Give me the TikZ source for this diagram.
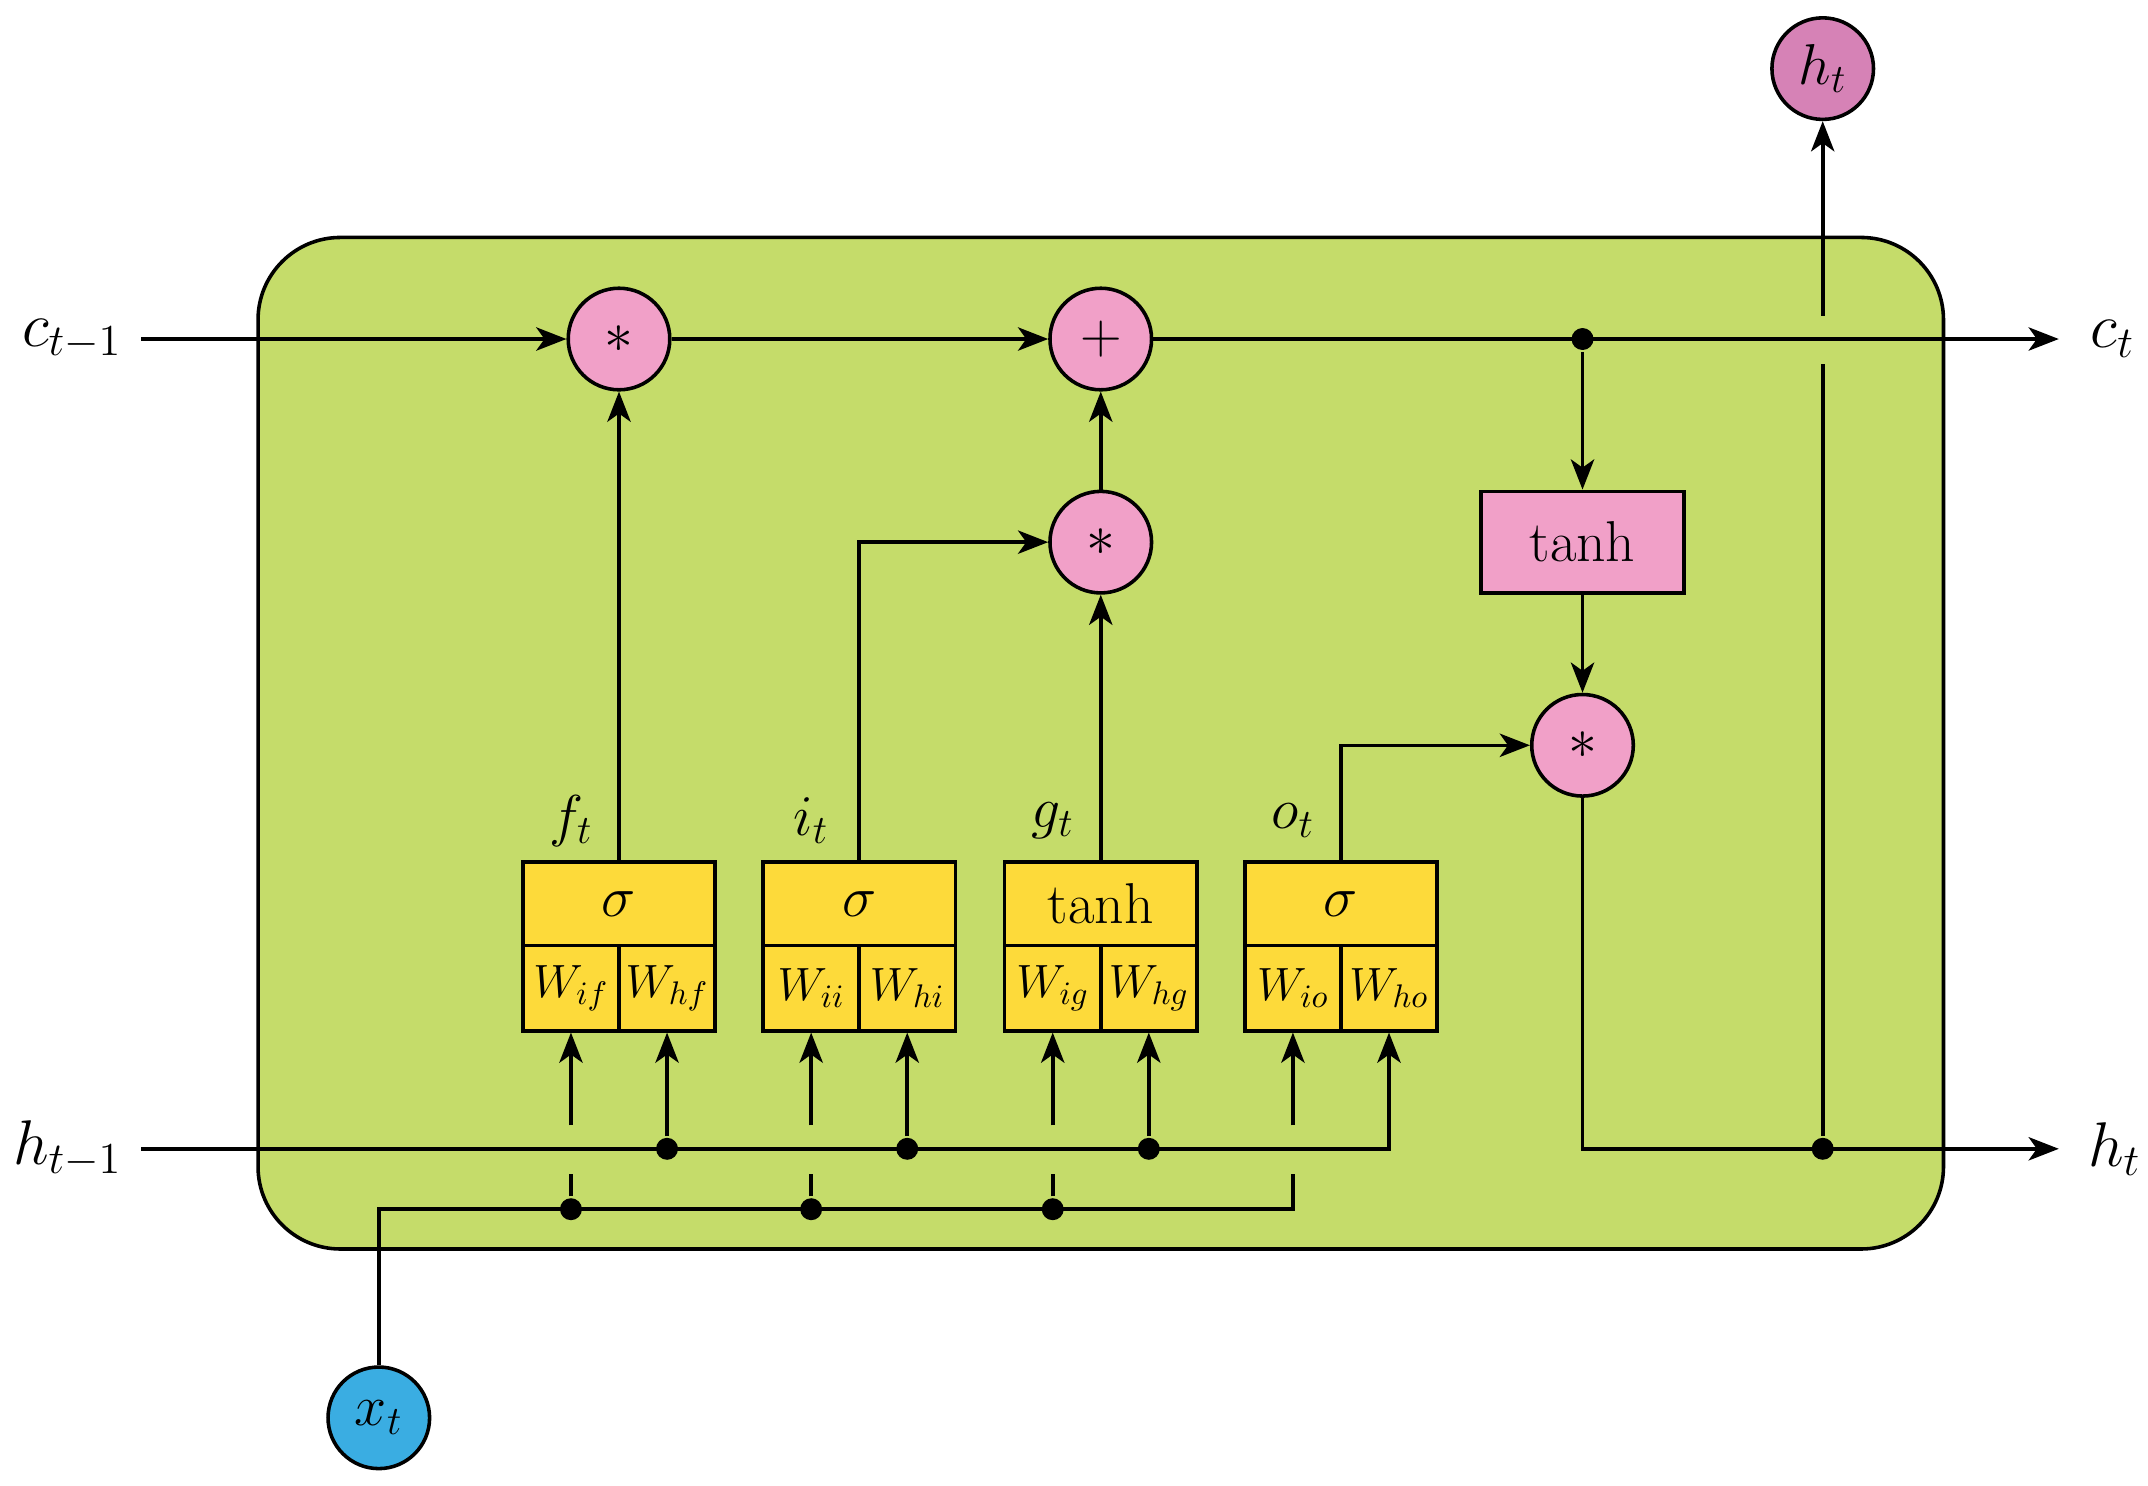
\RequirePackage{fix-cm}
\documentclass[tikz,border=0pt]{standalone}
\usepackage{fontspec}
\usetikzlibrary{arrows.meta}
\definecolor{cellgreen}{RGB}{197,220,106}
\definecolor{gateyellow}{RGB}{253,218,58}
\definecolor{oppink}{RGB}{241,160,200}
\definecolor{outpink}{RGB}{214,130,182}
\definecolor{inblue}{RGB}{58,173,226}
\tikzset{
  circ/.style={circle, draw, fill=oppink, minimum size=37pt, inner sep=0pt},
  gatetop/.style={rectangle, draw, fill=gateyellow, minimum width=70pt, minimum height=30.5pt, inner sep=0pt},
  gatecell/.style={rectangle, draw, fill=gateyellow, minimum width=35pt, minimum height=31pt, inner sep=0pt, font=\fontsize{17}{20}\selectfont},
  pinkbox/.style={rectangle, draw, fill=oppink, minimum width=74pt, minimum height=37pt, inner sep=0pt},
  dot/.style={circle, fill=black, minimum size=8pt, inner sep=0pt},
  outlabel/.style={font=\fontsize{23}{27}\selectfont, inner sep=2pt},
}
\begin{document}
\begin{tikzpicture}[x=0.5pt, y=-0.5pt, line width=1.3pt,
  >={Stealth[length=11pt, width=8.5pt, inset=3pt]},
  font=\fontsize{21}{25}\selectfont]
\useasboundingbox (0,0) rectangle (1565,1082);

% cell background
\node[draw, fill=cellgreen, rounded corners=30pt, minimum width=614pt, minimum height=368.5pt] (cell) at (802,541.5) {};

% operation nodes
\node[circ] (m1) at (451,247) {$*$};
\node[circ] (add) at (802,247) {$+$};
\node[circ] (m2) at (802,395) {$*$};
\node[circ] (m3) at (1153,543) {$*$};
\node[pinkbox] (th) at (1153,395) {tanh};
\node[circ, fill=outpink] (ht) at (1328,50) {$h_t$};
\node[circ, fill=inblue] (xt) at (276,1033) {$x_t$};

% gates
\foreach \g/\cx/\fn/\wa/\wb in {f/451/\sigma/if/hf, i/626/\sigma/ii/hi, g/802/\tanh/ig/hg, o/977/\sigma/io/ho} {
  \node[gatetop] (\g-sig) at (\cx,658.5) {$\fn$};
  \node[gatecell] (\g-wi) at (\cx-35,720) {$W_{\wa}$};
  \node[gatecell] (\g-wh) at (\cx+35,720) {$W_{\wb}$};
  \node (\g-lab) at (\cx-35,598) {$\g_t$};
}

% outer labels
\node[outlabel, anchor=east] (lc) at (94,247) {$c_{t-1}$};
\node[outlabel, anchor=east] (lh) at (94,837) {$h_{t-1}$};
\node[outlabel, anchor=west] (lct) at (1518,247) {$c_t$};
\node[outlabel, anchor=west] (lht) at (1516,837) {$h_t$};

% helper coordinates
\coordinate (cin) at (103,247);
\coordinate (cout) at (1500,247);
\coordinate (hin) at (103,837);
\coordinate (hout) at (1500,837);
\coordinate (hl) at (0,837);
\coordinate (gt) at (0,820);
\coordinate (gb) at (0,855);
\coordinate (xl) at (0,881);
\coordinate (hgapA) at (1328,265);
\coordinate (hgapB) at (1328,230);

% cell state line
\draw[->] (cin) -- (m1);
\draw[->] (m1) -- (add);
\draw[->] (add) -- (cout);
\node[dot] (cd) at (1153,247) {};
\draw[->] (cd) -- (th);
\draw[->] (th) -- (m3);
\draw[->] (m2) -- (add);

% gate outputs
\draw[->] (f-sig) -- (m1);
\draw[->] (i-sig) |- (m2);
\draw[->] (g-sig) -- (m2);
\draw[->] (o-sig) |- (m3);

% hidden output
\node[dot] (hd) at (1328,837) {};
\draw[->] (m3) |- (hout);
\draw (hd) -- (hgapA);
\draw[->] (hgapB) -- (ht);

% hidden input
\draw[->] (hin) -| (o-wh.south);
\foreach \g in {f,i,g} {
  \node[dot] (\g-hd) at (\g-wh.south |- hl) {};
  \draw[->] (\g-hd) -- (\g-wh);
  \node[dot] (\g-xd) at (\g-wi.south |- xl) {};
  \draw (\g-xd) -- (\g-wi.south |- gb);
}
\foreach \g in {f,i,g,o} {
  \draw[->] (\g-wi.south |- gt) -- (\g-wi);
}

% input x_t
\draw (xt) |- (o-wi.south |- xl) -- (o-wi.south |- gb);
\end{tikzpicture}
\end{document}
